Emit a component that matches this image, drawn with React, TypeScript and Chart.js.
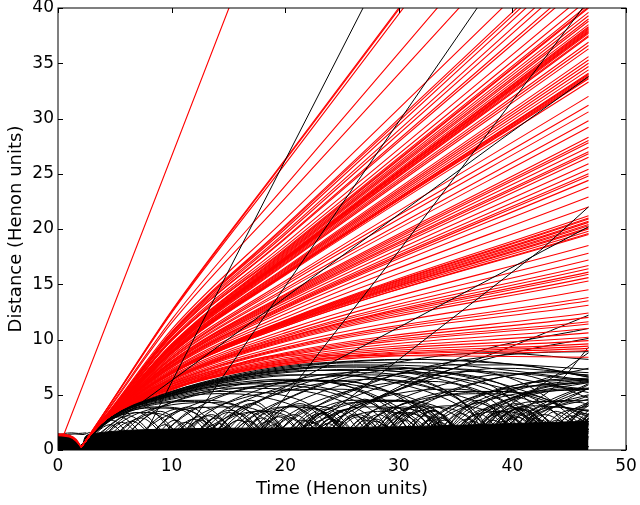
import React, { useEffect, useRef } from "react";
import { Chart, registerables } from "chart.js";

Chart.register(...registerables);

// ---------- axes ----------
const xTicks = [0, 10, 20, 30, 40, 50];
const yTicks = [0, 5, 10, 15, 20, 25, 30, 35, 40];

// ---------- red (escaping) particles ----------
// pre-collapse dome (three red strands)
const redDomeT = [0, 1.0, 1.6, 2.05];
const redDomeOuter = [1.45, 1.33, 0.95, 0.25];
const redDomeMid = [1.38, 1.26, 0.88, 0.25];
const redDomeInner = [1.3, 1.18, 0.8, 0.25];
// after the bounce: value at each sample time
const redBounceT = 2.05;
const redBounceD = 0.25;
const redSampleT = [3, 4.5, 10, 20, 46.7];
const redAt3 = [
  1.73, 1.71, 1.7, 1.63, 1.62, 1.62, 1.61, 1.61, 1.61, 1.61, 1.61, 1.61, 1.61, 1.6, 1.6, 1.6, 1.6,
  1.6, 1.6, 1.6, 1.6, 1.6, 1.6, 1.6, 1.6, 1.6, 1.6, 1.6, 1.6, 1.6, 1.6, 1.6, 1.6, 1.6, 1.6, 1.6, 1.6,
  1.6, 1.6, 1.6, 1.6, 1.6, 1.6, 1.59, 1.59, 1.59, 1.59, 1.59, 1.59, 1.59, 1.59,
  1.58, 1.58, 1.58, 1.58, 1.58, 1.58, 1.58, 1.57, 1.57, 1.57, 1.57, 1.57,
  1.56, 1.56, 1.56, 1.56, 1.56, 1.56, 1.55, 1.55, 1.55, 1.55,
  1.6, 1.6, 1.6, 1.6, 1.6, 1.6, 1.6, 1.6, 1.6, 1.6, 1.6, 1.6, 1.6, 1.59, 1.59, 1.59,
  1.58, 1.58, 1.58, 1.58, 1.58, 1.58, 1.58, 1.57, 1.57, 1.57, 1.56, 1.56, 1.56, 1.55, 1.55, 1.55,
];
const redAt4 = [
  4.05, 4.03, 3.99, 3.81, 3.72, 3.53, 3.47, 3.44, 3.44, 3.41, 3.38, 3.35, 3.35, 3.29, 3.25, 3.22, 3.22,
  3.21, 3.21, 3.2, 3.2, 3.2, 3.2, 3.2, 3.2, 3.2, 3.19, 3.19, 3.19, 3.18, 3.18, 3.18, 3.17, 3.17, 3.17, 3.17, 3.17,
  3.15, 3.15, 3.14, 3.13, 3.13, 3.13, 3.13, 3.12, 3.12, 3.11, 3.11, 3.11, 3.1, 3.1,
  3.09, 3.08, 3.08, 3.08, 3.08, 3.08, 3.06, 3.06, 3.06, 3.05, 3.05, 3.05,
  3.04, 3.04, 3.03, 3.02, 3.02, 3.02, 3.01, 3.01, 3.01, 3.0,
  3.2, 3.2, 3.2, 3.2, 3.19, 3.19, 3.18, 3.17, 3.17, 3.17, 3.16, 3.14, 3.13, 3.12, 3.11, 3.09,
  3.09, 3.08, 3.08, 3.08, 3.08, 3.08, 3.07, 3.05, 3.05, 3.04, 3.03, 3.03, 3.02, 3.01, 3.01, 3.01,
];
const redAt10 = [
  12.6, 12.5, 12.4, 11.8, 11.5, 10.9, 10.7, 10.6, 10.6, 10.5, 10.4, 10.3, 10.3, 10.1, 10.0, 9.9, 9.9,
  9.6, 9.55, 9.5, 9.4, 9.4, 9.35, 9.3, 9.3, 9.3, 9.25, 9.2, 9.1, 9.0, 8.9, 8.9, 8.8, 8.8, 8.8, 8.75, 8.7,
  8.4, 8.35, 8.2, 8.05, 8.0, 7.9, 7.9, 7.8, 7.7, 7.65, 7.6, 7.5, 7.45, 7.3,
  7.1, 7.0, 7.0, 6.95, 6.9, 6.9, 6.65, 6.55, 6.5, 6.4, 6.35, 6.3,
  6.1, 6.1, 6.0, 5.8, 5.8, 5.7, 5.6, 5.55, 5.5, 5.4,
  9.45, 9.4, 9.35, 9.3, 9.25, 9.15, 9.0, 8.85, 8.8, 8.75, 8.55, 8.25, 8.0, 7.85, 7.6, 7.2,
  7.1, 7.05, 7.0, 7.0, 6.95, 6.9, 6.75, 6.45, 6.4, 6.2, 5.95, 5.9, 5.75, 5.6, 5.55, 5.5,
];
const redAt20 = [
  26.3, 26.2, 25.9, 23.9, 22.8, 20.9, 20.3, 20.2, 20.0, 19.7, 19.5, 19.2, 19.1, 18.7, 18.4, 18.2, 18.1,
  18.0, 17.9, 17.8, 17.6, 17.4, 17.4, 17.3, 17.3, 17.2, 17.1, 17.0, 16.8, 16.5, 16.3, 16.2, 16.0, 16.0, 15.9, 15.9, 15.8,
  15.1, 14.9, 14.4, 14.1, 14.0, 13.8, 13.7, 13.5, 13.3, 13.1, 13.0, 12.8, 12.6, 12.3,
  11.7, 11.6, 11.5, 11.4, 11.3, 11.2, 10.6, 10.4, 10.3, 10.1, 9.9, 9.8,
  9.3, 9.2, 9.1, 8.6, 8.5, 8.2, 8.1, 7.9, 7.8, 8.6,
  17.7, 17.5, 17.4, 17.3, 17.2, 16.9, 16.4, 16.1, 16.0, 15.9, 15.3, 14.6, 13.9, 13.6, 12.9, 12.0,
  11.75, 11.65, 11.55, 11.45, 11.35, 11.2, 10.85, 10.15, 10.0, 9.5, 8.8, 8.7, 8.35, 8.0, 7.85, 7.7,
];
const redAtEnd = [
  62.9, 62.7, 62.1, 56.0, 52.8, 47.6, 46.1, 45.7, 45.2, 44.4, 43.8, 43.0, 42.6, 41.5, 40.8, 40.3, 40.1,
  40.0, 39.6, 39.3, 38.8, 38.3, 38.1, 38.0, 37.9, 37.7, 37.4, 36.9, 36.3, 35.6, 35.0, 34.7, 34.1, 33.9, 33.8, 33.6, 33.3,
  31.2, 30.6, 29.2, 28.3, 28.0, 27.4, 27.0, 26.5, 25.9, 25.4, 25.0, 24.4, 23.8, 22.9,
  21.0, 20.7, 20.4, 20.1, 19.8, 19.5, 17.8, 17.2, 16.7, 16.1, 15.6, 15.3,
  13.8, 13.5, 13.1, 11.6, 11.4, 10.6, 10.2, 9.6, 9.2, 8.4,
  39.0, 38.5, 38.2, 37.8, 37.5, 36.6, 35.3, 34.4, 34.0, 33.7, 32.0, 29.8, 27.8, 26.8, 24.8, 22.0,
  21.2, 20.9, 20.6, 20.3, 20.0, 19.6, 18.5, 16.4, 15.9, 14.5, 12.4, 12.0, 11.0, 9.9, 9.4, 9.0,
];
// the very early escaper
const redEarly = [0, 1.35, 0.55, 1.5, 15.05, 40, 20, 53.3];

// ---------- black (bound) particles ----------
const blackCoreT = [0, 0.5, 1.0, 1.5, 1.8, 2.05, 2.4, 3, 5, 10, 20, 30, 40, 46.7];
const blackCoreD = [1.45, 1.43, 1.32, 1.0, 0.65, 0.2, 1.2, 1.45, 1.7, 1.9, 2.0, 2.1, 2.4, 2.6];

const blackDomeTop = [
  [0.5, 1.5, 1.2, 1.55, 1.8, 1.5, 2.5, 1.55],
  [0.9, 1.42, 1.5, 1.45, 2.2, 1.4, 2.8, 1.6],
];

const blackBig = [
  [1.9, 0.3, 5, 3.3, 10, 5.3, 15, 6.6, 20, 7.5, 26, 8.0, 32, 8.2, 38, 7.9, 46.7, 7.3],
  [1.9, 0.3, 5, 3.3, 10, 5.2, 15, 6.5, 20, 7.3, 26, 7.7, 32, 7.6, 38, 6.9, 46.7, 5.2],
  [1.9, 0.3, 5, 3.2, 10, 5.1, 15, 6.3, 20, 7.0, 26, 7.3, 32, 6.9, 38, 5.9, 46.7, 3.2],
  [1.9, 0.3, 5, 3.2, 10, 5.0, 16, 6.3, 22, 6.8, 28, 6.5, 34, 5.3, 40, 3.0, 44, 0.3, 46.7, 2.4],
  [1.9, 0.3, 5, 3.1, 10, 4.9, 16, 6.0, 21, 6.3, 27, 5.7, 33, 3.8, 37, 0.3, 41, 3.3, 46.7, 5.0],
  [1.9, 0.3, 5, 3.1, 10, 4.8, 15, 5.6, 20, 5.5, 25, 4.4, 29, 2.0, 31, 0.3, 34, 3.0, 39, 4.8, 44, 5.5, 46.7, 5.6],
  [1.9, 0.3, 5, 3.0, 10, 4.6, 14, 5.1, 18, 4.8, 22, 3.3, 25, 0.3, 28, 3.0, 33, 4.8, 38, 5.1, 42, 4.3, 46.7, 1.5],
  [1.9, 0.3, 5, 3.0, 9, 4.3, 13, 4.5, 17, 3.4, 20, 0.3, 23, 3.0, 28, 4.5, 32, 4.3, 36, 2.5, 38.5, 0.3, 42, 3.2, 46.7, 4.6],
  [1.9, 0.3, 5, 2.9, 8.5, 3.9, 12, 3.4, 15, 0.3, 18, 3.2, 21.5, 4.0, 25, 3.4, 28, 0.3, 31, 3.1, 34.5, 4.0, 38, 3.4, 41, 0.3, 44, 3.2, 46.7, 4.0],
  [1.9, 0.3, 4.5, 2.7, 7.5, 3.4, 10.5, 2.6, 12.5, 0.3, 15, 2.8, 18, 3.5, 21, 2.6, 23, 0.3, 25.5, 2.8, 28.5, 3.5, 31.5, 2.6, 33.5, 0.3, 36, 2.8, 39, 3.5, 42, 2.6, 44, 0.3, 46.7, 2.8],
  [1.9, 0.3, 5, 3.2, 10, 5.1, 15, 6.4, 20, 7.2, 25, 7.5, 30, 7.3, 35, 6.4, 40, 4.6, 44, 2.0, 45.5, 0.3, 46.7, 1.9],
  [1.9, 0.3, 5, 3.3, 10, 5.25, 15, 6.55, 20, 7.4, 26, 7.9, 32, 7.9, 38, 7.4, 46.7, 6.3],
  [1.9, 0.3, 5, 3.1, 10, 4.9, 15, 5.9, 20, 6.0, 25, 5.2, 30, 2.8, 32.5, 0.3, 36, 3.6, 41, 5.6, 46.7, 6.4],
  [1.9, 0.3, 5, 3.25, 10, 5.15, 15, 6.45, 20, 7.25, 25, 7.6, 30, 7.5, 35, 6.9, 40, 5.7, 46.7, 3.0],
  [1.9, 0.3, 5, 3.2, 10, 5.05, 15, 6.2, 20, 6.8, 25, 6.8, 30, 6.0, 35, 4.2, 38, 2.0, 39.5, 0.3, 42, 3.0, 46.7, 4.9],
  [1.9, 0.3, 5, 3.15, 10, 4.95, 15, 6.0, 20, 6.4, 24, 6.1, 28, 4.9, 32, 2.4, 34, 0.3, 37, 3.2, 41, 5.0, 46.7, 6.1],
  [1.9, 0.3, 5, 3.1, 10, 4.7, 14, 5.3, 18, 5.2, 22, 4.2, 25, 2.0, 26.5, 0.3, 29.5, 3.1, 34, 4.9, 39, 5.3, 43, 4.6, 46.7, 2.6],
  [1.9, 0.3, 5, 3.0, 9, 4.2, 12, 4.4, 15, 3.8, 18, 1.6, 19, 0.3, 22, 3.1, 26, 4.5, 30, 4.5, 33, 3.3, 35.5, 0.3, 38.5, 3.1, 42, 4.4, 46, 4.3, 46.7, 4.1],
  [1.9, 0.3, 4.8, 2.8, 8, 3.8, 11, 3.7, 13.5, 2.0, 14.5, 0.3, 17, 2.9, 20, 3.9, 23, 3.6, 25.5, 1.5, 26.5, 0.3, 29, 2.9, 32, 3.9, 35, 3.6, 37.5, 1.5, 38.5, 0.3, 41, 2.9, 44, 3.9, 46.7, 3.5],
  [1.9, 0.3, 5, 3.3, 10, 5.3, 15, 6.7, 20, 7.6, 25, 8.0, 30, 8.2, 36, 8.1, 42, 7.5, 46.7, 6.7],
  [1.9, 0.3, 5, 3.2, 10, 5.1, 16, 6.5, 22, 7.2, 28, 7.2, 34, 6.3, 39, 4.5, 43, 1.5, 44, 0.3, 46.7, 3.3],
];

const blackLate = [
  [14, 0.3, 17, 3.0, 20, 4.6, 26, 7.0, 32, 8.3, 38, 8.8, 46.7, 8.2],
  [18, 0.3, 21, 3.0, 24, 4.5, 30, 6.9, 36, 8.2, 42, 8.8, 46.7, 8.9],
  [22, 0.3, 25, 3.0, 28, 4.6, 34, 7.1, 40, 8.8, 46.7, 10.1],
  [22, 1.5, 29, 5.2, 36.3, 8.7, 46.7, 11.0],
  [18, 0.5, 25, 3.5, 32.8, 6.6, 40, 9.4, 46.7, 12.2],
  [8, 0.3, 11, 3.0, 14, 4.7, 19, 6.0, 24, 6.3, 29, 5.3, 33, 2.5, 35, 0.3, 38, 3.3, 42, 5.4, 46.7, 6.2],
  [11, 0.3, 14, 3.2, 17, 4.7, 22, 6.3, 27, 6.8, 32, 6.2, 36, 4.0, 38.5, 0.3, 41.5, 3.4, 46.7, 6.0],
  [5, 0.3, 8, 3.2, 11, 4.7, 16, 5.9, 21, 6.3, 26, 5.6, 30, 3.0, 32, 0.3, 35, 3.3, 40, 5.5, 46.7, 6.1],
  [13, 0.3, 16, 3.3, 19, 5.0, 24, 6.7, 29, 7.4, 34, 7.0, 39, 5.3, 42, 2.0, 43, 0.3, 46, 3.5, 46.7, 4.0],
  [16, 0.3, 19, 3.2, 22, 4.8, 27, 6.4, 32, 7.0, 37, 6.6, 41, 4.8, 44, 1.5, 45, 0.3, 46.7, 2.6],
  [20, 0.3, 23, 3.2, 26, 4.8, 31, 6.4, 36, 7.1, 41, 6.8, 46.7, 4.7],
  [24, 0.3, 27, 3.1, 30, 4.6, 35, 6.2, 40, 6.9, 46.7, 6.2],
  [27, 0.3, 30, 3.2, 33, 4.8, 38, 6.4, 43, 7.0, 46.7, 6.8],
  [33, 0.3, 36, 3.3, 39, 5.0, 43, 6.5, 46.7, 7.4],
  [36, 0.3, 39, 3.5, 42, 5.5, 46.7, 8.8],
  [38, 0.3, 41, 3.6, 44, 6.0, 46.7, 9.3],
  [9, 0.3, 12, 2.9, 15, 4.3, 20, 5.4, 25, 5.5, 29, 4.2, 32, 1.6, 33.5, 0.3, 36.5, 3.1, 41, 5.0, 46.7, 5.5],
  [30, 0.3, 33, 3.0, 36, 4.6, 41, 6.0, 46.7, 6.4],
  [3, 0.3, 6, 2.8, 9, 3.9, 13, 4.3, 17, 3.4, 19.5, 0.3, 22.5, 3.0, 26, 4.3, 30, 4.4, 34, 3.0, 36, 0.3, 39, 3.0, 43, 4.4, 46.7, 4.5],
  [6, 0.3, 9, 2.8, 12, 3.8, 16, 3.9, 19, 2.6, 20.5, 0.3, 23.5, 2.9, 27, 3.9, 31, 3.7, 34, 1.8, 35, 0.3, 38, 3.0, 42, 4.0, 46.7, 3.6],
  [4, 0.3, 7, 2.9, 10, 4.3, 15, 5.5, 20, 5.8, 24, 5.2, 28, 3.3, 30.5, 0.3, 33.5, 3.2, 38, 5.2, 43, 5.8, 46.7, 5.5],
  [7, 0.3, 10, 3.1, 13, 4.5, 18, 5.9, 23, 6.3, 28, 5.7, 32, 3.6, 34.5, 0.3, 37.5, 3.3, 42, 5.5, 46.7, 6.3],
  [10, 0.3, 13, 3.2, 16, 4.8, 21, 6.4, 26, 7.0, 31, 6.6, 35, 4.8, 38, 1.6, 39, 0.3, 42, 3.4, 46.7, 5.9],
  [12, 0.3, 15, 3.1, 18, 4.6, 23, 6.0, 28, 6.4, 33, 5.6, 37, 3.2, 39, 0.3, 42, 3.3, 46.7, 5.6],
  [15, 0.3, 18, 3.3, 21, 5.0, 26, 6.7, 31, 7.4, 36, 7.3, 41, 6.0, 45, 3.2, 46.7, 1.6],
  [17, 0.3, 20, 3.0, 23, 4.5, 28, 5.9, 33, 6.2, 37, 5.2, 40, 2.8, 41.5, 0.3, 44.5, 3.2, 46.7, 4.3],
  [19, 0.3, 22, 3.4, 25, 5.1, 30, 6.9, 35, 7.7, 40, 7.7, 46.7, 6.6],
  [21, 0.3, 24, 2.9, 27, 4.3, 31, 5.3, 35, 5.5, 39, 4.6, 42, 2.2, 43.5, 0.3, 46.7, 3.1],
  [23, 0.3, 26, 3.3, 29, 5.0, 34, 6.7, 39, 7.4, 44, 7.1, 46.7, 6.6],
  [25, 0.3, 28, 3.0, 31, 4.4, 35, 5.3, 39, 5.3, 43, 4.0, 46, 0.8, 46.7, 0.3],
  [28, 0.3, 31, 3.3, 34, 5.0, 39, 6.6, 44, 7.1, 46.7, 7.0],
  [31, 0.3, 34, 3.2, 37, 4.8, 42, 6.2, 46.7, 6.5],
  [34, 0.3, 37, 3.0, 40, 4.5, 44, 5.4, 46.7, 5.5],
  [40, 0.3, 43, 3.4, 46.7, 5.6],
  [42, 0.3, 45, 3.2, 46.7, 4.2],
];

const blackSmall = [
  [1.9, 0.3, 5.4, 3.0, 8.9, 0.3, 12.4, 3.0, 15.9, 0.3, 19.4, 3.0, 22.9, 0.3, 26.4, 3.0, 29.9, 0.3, 33.4, 3.0, 36.9, 0.3, 40.4, 3.0, 43.9, 0.3, 46.7, 2.8],
  [1.9, 0.3, 4.7, 2.7, 7.5, 0.3, 10.3, 2.7, 13.1, 0.3, 15.9, 2.7, 18.7, 0.3, 21.5, 2.7, 24.3, 0.3, 27.1, 2.7, 29.9, 0.3, 32.7, 2.7, 35.5, 0.3, 38.3, 2.7, 41.1, 0.3, 43.9, 2.7, 46.7, 0.3],
  [3, 0.3, 7, 3.4, 11, 0.3, 15, 3.4, 19, 0.3, 23, 3.3, 27, 0.3, 31, 3.4, 35, 0.3, 39, 3.5, 43, 0.3, 46.7, 3.3],
  [6, 0.3, 10.5, 3.7, 15, 0.3, 19.5, 3.6, 24, 0.3, 28.5, 3.8, 33, 0.3, 37.5, 3.7, 42, 0.3, 46.5, 3.6, 46.7, 3.6],
  [2.5, 0.3, 6.2, 3.1, 9.8, 0.3, 13.5, 3.2, 17, 0.3, 20.8, 3.2, 24.5, 0.3, 28.2, 3.2, 31.8, 0.3, 35.5, 3.3, 39, 0.3, 42.8, 3.2, 46.7, 0.3],
  [4, 0.3, 7.3, 2.9, 10.6, 0.3, 13.9, 2.9, 17.2, 0.3, 20.5, 2.9, 23.8, 0.3, 27.1, 3.0, 30.4, 0.3, 33.7, 2.9, 37, 0.3, 40.3, 3.0, 43.6, 0.3, 46.7, 2.9],
  [1.9, 0.3, 7, 4.3, 12, 0.3, 17, 4.2, 22, 0.3, 27, 4.4, 32, 0.3, 37, 4.3, 42, 0.3, 46.7, 4.2],
  [8, 0.3, 12.7, 3.9, 17.5, 0.3, 22.2, 3.9, 27, 0.3, 31.7, 4.0, 36.5, 0.3, 41.2, 3.9, 46, 0.3, 46.7, 1.2],
  [2.2, 0.3, 4.6, 2.3, 7, 0.3, 9.4, 2.3, 11.8, 0.3, 14.2, 2.4, 16.6, 0.3, 19, 2.3, 21.4, 0.3, 23.8, 2.4, 26.2, 0.3, 28.6, 2.3, 31, 0.3, 33.4, 2.4, 35.8, 0.3, 38.2, 2.3, 40.6, 0.3, 43, 2.4, 45.4, 0.3, 46.7, 1.7],
  [3.5, 0.3, 6.5, 2.6, 9.5, 0.3, 12.5, 2.7, 15.5, 0.3, 18.5, 2.6, 21.5, 0.3, 24.5, 2.7, 27.5, 0.3, 30.5, 2.7, 33.5, 0.3, 36.5, 2.6, 39.5, 0.3, 42.5, 2.7, 45.5, 0.3, 46.7, 1.9],
  [5, 0.3, 9, 3.5, 13, 0.3, 17, 3.4, 21, 0.3, 25, 3.6, 29, 0.3, 33, 3.5, 37, 0.3, 41, 3.6, 45, 0.3, 46.7, 2.2],
  [7, 0.3, 11.5, 3.9, 16, 0.3, 20.5, 4.0, 25, 0.3, 29.5, 3.9, 34, 0.3, 38.5, 4.1, 43, 0.3, 46.7, 3.6],
  [10, 0.3, 13.2, 3.1, 16.4, 0.3, 19.6, 3.1, 22.8, 0.3, 26, 3.2, 29.2, 0.3, 32.4, 3.1, 35.6, 0.3, 38.8, 3.2, 42, 0.3, 45.2, 3.1, 46.7, 2.3],
  [12, 0.3, 17, 4.5, 22, 0.3, 27, 4.6, 32, 0.3, 37, 4.5, 42, 0.3, 46.7, 4.4],
  [14, 0.3, 17.8, 3.6, 21.6, 0.3, 25.4, 3.7, 29.2, 0.3, 33, 3.6, 36.8, 0.3, 40.6, 3.8, 44.4, 0.3, 46.7, 2.9],
  [16.5, 0.3, 21.3, 4.2, 26, 0.3, 30.8, 4.3, 35.5, 0.3, 40.3, 4.2, 45, 0.3, 46.7, 2.3],
  [20, 0.3, 23.4, 3.3, 26.8, 0.3, 30.2, 3.4, 33.6, 0.3, 37, 3.3, 40.4, 0.3, 43.8, 3.5, 46.7, 1.2],
  [26, 0.3, 30.5, 3.9, 35, 0.3, 39.5, 4.0, 44, 0.3, 46.7, 3.2],
  [2.8, 0.3, 5.6, 2.5, 8.4, 0.3, 11.2, 2.5, 14, 0.3, 16.8, 2.6, 19.6, 0.3, 22.4, 2.5, 25.2, 0.3, 28, 2.6, 30.8, 0.3, 33.6, 2.5, 36.4, 0.3, 39.2, 2.6, 42, 0.3, 44.8, 2.5, 46.7, 1.0],
  [4.5, 0.3, 8.3, 3.3, 12.1, 0.3, 15.9, 3.3, 19.7, 0.3, 23.5, 3.4, 27.3, 0.3, 31.1, 3.3, 34.9, 0.3, 38.7, 3.4, 42.5, 0.3, 46.3, 3.3, 46.7, 3.2],
  [9, 0.3, 12, 2.8, 15, 0.3, 18, 2.9, 21, 0.3, 24, 2.8, 27, 0.3, 30, 2.9, 33, 0.3, 36, 2.8, 39, 0.3, 42, 2.9, 45, 0.3, 46.7, 2.0],
  [11, 0.3, 15.2, 3.6, 19.4, 0.3, 23.6, 3.7, 27.8, 0.3, 32, 3.6, 36.2, 0.3, 40.4, 3.7, 44.6, 0.3, 46.7, 2.6],
  [13, 0.3, 16, 2.7, 19, 0.3, 22, 2.7, 25, 0.3, 28, 2.8, 31, 0.3, 34, 2.7, 37, 0.3, 40, 2.8, 43, 0.3, 46, 2.7, 46.7, 2.5],
  [18, 0.3, 22.5, 3.8, 27, 0.3, 31.5, 3.9, 36, 0.3, 40.5, 3.8, 45, 0.3, 46.7, 2.4],
  [23, 0.3, 26.5, 3.2, 30, 0.3, 33.5, 3.3, 37, 0.3, 40.5, 3.2, 44, 0.3, 46.7, 2.8],
  [29, 0.3, 33, 3.6, 37, 0.3, 41, 3.7, 45, 0.3, 46.7, 1.8],
];

// black particles that leave in straight lines
const blackEscapers = [
  [7.2, 0.5, 26.85, 40],
  [10.4, 0.5, 36.9, 40],
  [16.8, 0.5, 22, 7.5, 30, 18, 46.7, 40.7],
  [2.3, 0.5, 19.6, 13.5, 39, 28.1, 46.7, 33.8],
  [20.4, 0.5, 29.9, 8.1, 42.5, 18.1, 46.7, 22.0],
  [10.3, 0.5, 20, 5.7, 30, 11.1, 39, 16.0, 46.7, 20.2],
];

// ---------- helpers ----------
function pairs(flat: number[]) {
  const out: { x: number; y: number }[] = [];
  for (let i = 0; i < flat.length; i += 2) out.push({ x: flat[i], y: flat[i + 1] });
  return out;
}

function lineSet(data: { x: number; y: number }[], color: string, order: number, extra: any = {}) {
  return {
    data,
    borderColor: color,
    backgroundColor: color,
    borderWidth: 1,
    pointRadius: 0,
    showLine: true,
    fill: false,
    order,
    cubicInterpolationMode: "monotone",
    ...extra,
  };
}

// drawing order: higher "order" is painted first
function buildDatasets() {
  const sets: any[] = [];
  sets.push(
    lineSet(
      blackCoreT.map((t, k) => ({ x: t, y: blackCoreD[k] })),
      "#000000",
      5,
      { fill: "origin", backgroundColor: "#000000" }
    )
  );
  blackDomeTop.forEach((o) => sets.push(lineSet(pairs(o), "#000000", 4)));
  blackSmall.forEach((o) => sets.push(lineSet(pairs(o), "#000000", 4)));
  blackBig.forEach((o) => sets.push(lineSet(pairs(o), "#000000", 4)));
  blackLate.forEach((o) => sets.push(lineSet(pairs(o), "#000000", 4)));
  [redDomeOuter, redDomeMid, redDomeInner].forEach((d) =>
    sets.push(lineSet(redDomeT.map((t, k) => ({ x: t, y: d[k] })), "#ff0000", 2, { borderWidth: 1.3 }))
  );
  for (let i = 0; i < redAtEnd.length; i++) {
    const data = [{ x: redBounceT, y: redBounceD }];
    const vals = [redAt3[i], redAt4[i], redAt10[i], redAt20[i], redAtEnd[i]];
    redSampleT.forEach((t, k) => data.push({ x: t, y: vals[k] }));
    sets.push(lineSet(data, "#ff0000", 2, { borderWidth: 1.1 }));
  }
  sets.push(lineSet(pairs(redEarly), "#ff0000", 2, { cubicInterpolationMode: "default", tension: 0, borderWidth: 1.1 }));
  blackEscapers.forEach((o) =>
    sets.push(lineSet(pairs(o), "#000000", 1, { cubicInterpolationMode: "default", tension: 0 }))
  );
  return sets;
}

const frameTicks = {
  id: "frameTicks",
  afterDraw(chart: any) {
    const { ctx, chartArea: a, scales } = chart;
    const xs = scales.x;
    const ys = scales.y;
    ctx.save();
    ctx.strokeStyle = "#000000";
    ctx.lineWidth = 1;
    ctx.strokeRect(a.left, a.top, a.right - a.left, a.bottom - a.top);
    ctx.beginPath();
    for (const v of xTicks) {
      const px = Math.round(xs.getPixelForValue(v)) + 0.5;
      ctx.moveTo(px, a.bottom);
      ctx.lineTo(px, a.bottom - 5);
      ctx.moveTo(px, a.top);
      ctx.lineTo(px, a.top + 5);
    }
    for (const v of yTicks) {
      const py = Math.round(ys.getPixelForValue(v)) + 0.5;
      ctx.moveTo(a.left, py);
      ctx.lineTo(a.left + 5, py);
      ctx.moveTo(a.right, py);
      ctx.lineTo(a.right - 5, py);
    }
    ctx.stroke();
    ctx.restore();
  },
};

const FONT = "'DejaVu Sans', 'Liberation Sans', sans-serif";

export default function App() {
  const ref = useRef<HTMLCanvasElement>(null);
  useEffect(() => {
    document.body.style.margin = "0";
    const chart = new Chart(ref.current as HTMLCanvasElement, {
      type: "scatter",
      data: { datasets: buildDatasets() },
      options: {
        animation: false,
        responsive: false,
        devicePixelRatio: 1,
        events: [],
        plugins: { legend: { display: false }, tooltip: { enabled: false } },
        layout: { padding: { top: 8, right: 14, left: 0, bottom: 0 } },
        scales: {
          x: {
            type: "linear",
            min: 0,
            max: 50,
            afterBuildTicks: (s: any) => {
              s.ticks = xTicks.map((v) => ({ value: v }));
            },
            grid: { display: false, drawTicks: false },
            border: { display: false },
            ticks: { color: "#000", font: { family: FONT, size: 17 }, padding: 6, maxRotation: 0 },
            title: {
              display: true,
              text: "Time (Henon units)",
              color: "#000",
              font: { family: FONT, size: 18 },
              padding: { top: 0, bottom: 5 },
            },
            afterFit: (s: any) => {
              s.height = 55;
              s.paddingLeft = 0;
              s.paddingRight = 0;
            },
          },
          y: {
            type: "linear",
            min: 0,
            max: 40,
            afterBuildTicks: (s: any) => {
              s.ticks = yTicks.map((v) => ({ value: v }));
            },
            grid: { display: false, drawTicks: false },
            border: { display: false },
            ticks: { color: "#000", font: { family: FONT, size: 17 }, padding: 4 },
            title: {
              display: true,
              text: "Distance (Henon units)",
              color: "#000",
              font: { family: FONT, size: 18 },
              padding: { top: 6, bottom: 0 },
            },
            afterFit: (s: any) => {
              s.width = 58;
              s.paddingTop = 0;
              s.paddingBottom = 0;
            },
          },
        },
      } as any,
      plugins: [frameTicks],
    });
    return () => chart.destroy();
  }, []);
  return (
    <div style={{ width: 640, height: 505 }}>
      <canvas ref={ref} width={640} height={505} style={{ display: "block" }} />
    </div>
  );
}
